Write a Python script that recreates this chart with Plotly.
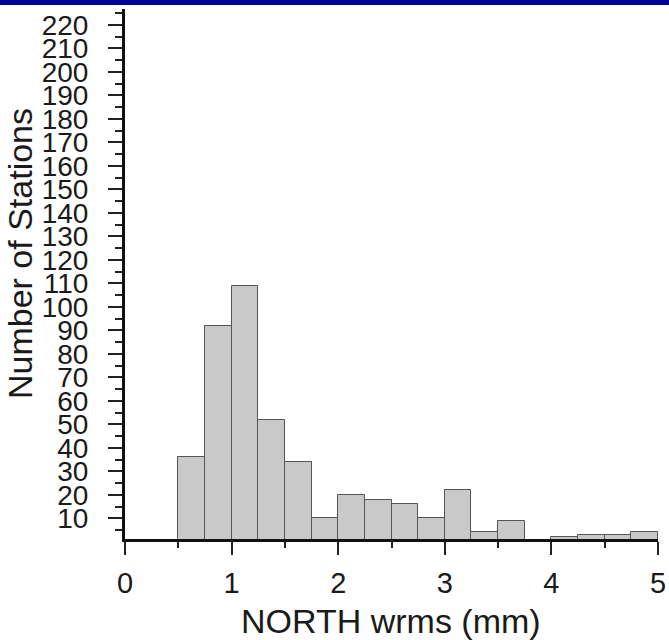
import plotly.graph_objects as go

# Histogram data (bin edges in mm, counts of stations)
bin_edges = [0.5, 0.75, 1.0, 1.25, 1.5, 1.75, 2.0, 2.25, 2.5, 2.75,
             3.0, 3.25, 3.5, 3.75, 4.0, 4.25, 4.5, 4.75, 5.0]
counts = [36, 92, 109, 52, 34, 10, 20, 18, 16, 10,
          22, 4, 9, 0, 2, 3, 3, 4]
x_tick_values = [0, 1, 2, 3, 4, 5]
x_tick_labels = ["0", "1", "2", "3", "4", "5"]
x_title = "NORTH wrms (mm)"
y_title = "Number of Stations"

centers = [(a + b) / 2 for a, b in zip(bin_edges[:-1], bin_edges[1:])]
widths = [b - a for a, b in zip(bin_edges[:-1], bin_edges[1:])]

W, H = 669, 640
ml, mr, mt, mb = 125, 11, 9, 101
pw, ph = W - ml - mr, H - mt - mb

fig = go.Figure()
fig.add_trace(go.Bar(
    x=centers, y=counts, width=widths,
    marker=dict(color="#c8c9c8", line=dict(color="#555555", width=1)),
    hoverinfo="x+y",
))

font = "Liberation Sans, Arial, Helvetica, sans-serif"

def px_x(p):
    return (p - ml) / pw

def px_y(p):
    return (H - mb - p) / ph

fig.update_layout(
    width=W, height=H,
    margin=dict(l=ml, r=mr, t=mt, b=mb, pad=0),
    paper_bgcolor="white", plot_bgcolor="white",
    showlegend=False,
    bargap=0,
    font=dict(family=font, color="#1a1a1a", size=29),
    xaxis=dict(
        range=[0, 5], tickmode="array", tickvals=x_tick_values,
        ticktext=x_tick_labels,
        ticks="outside", ticklen=13, tickwidth=2, tickcolor="#222",
        minor=dict(dtick=0.5, tick0=0, ticks="outside", ticklen=6, tickwidth=2, tickcolor="#222"),
        showline=True, linewidth=3, linecolor="#111",
        showgrid=False, zeroline=False, automargin=False,
        tickfont=dict(size=29), ticklabelstandoff=3,
        fixedrange=True,
    ),
    yaxis=dict(
        range=[1.2, 226.7], tick0=0, dtick=10,
        ticks="outside", ticklen=14, tickwidth=2, tickcolor="#222",
        minor=dict(dtick=5, tick0=0, ticks="outside", ticklen=7, tickwidth=2, tickcolor="#222"),
        showline=True, linewidth=3, linecolor="#111",
        showgrid=False, zeroline=False, automargin=False,
        tickfont=dict(size=28), ticklabelstandoff=14,
        fixedrange=True,
    ),
    annotations=[
        dict(text=x_title, xref="paper", yref="paper", x=px_x(391), y=px_y(621),
             xanchor="center", yanchor="middle", showarrow=False,
             font=dict(size=34, family=font, color="#1a1a1a")),
        dict(text=y_title, xref="paper", yref="paper", x=px_x(20), y=px_y(254),
             xanchor="center", yanchor="middle", showarrow=False, textangle=-90,
             font=dict(size=34, family=font, color="#1a1a1a")),
    ],
    shapes=[dict(
        type="rect", xref="paper", yref="paper",
        x0=px_x(0), x1=px_x(W),
        y0=px_y(5), y1=px_y(0),
        fillcolor="#00009a", line=dict(width=0), layer="above",
    )],
)

fig.write_html("out.html")
